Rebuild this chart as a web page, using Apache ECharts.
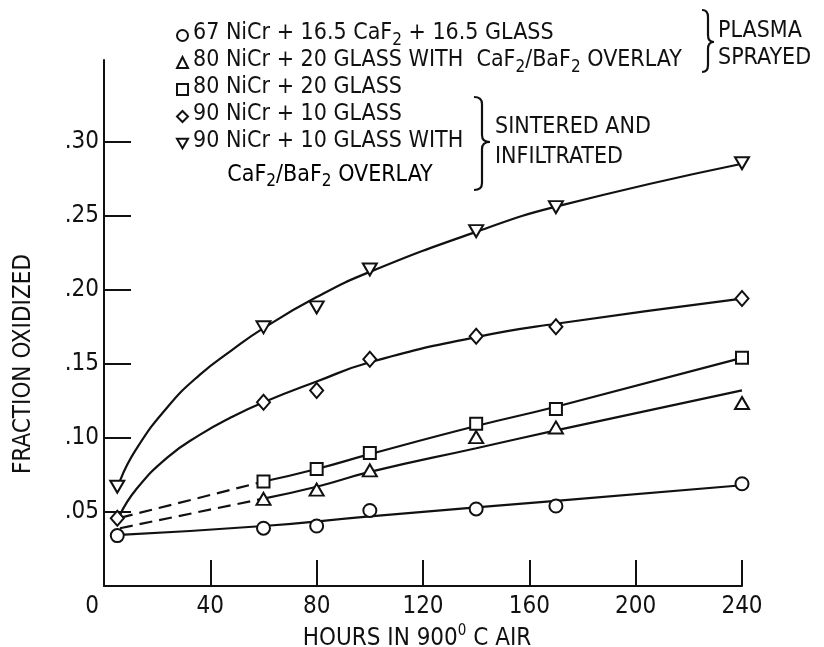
<!DOCTYPE html>
<html><head><meta charset="utf-8">
<script src="https://cdn.jsdelivr.net/npm/echarts@6/dist/echarts.min.js"></script>
<style>html,body{margin:0;padding:0;background:#fff}#c{width:824px;height:647px}</style>
</head><body><div id="c"></div>
<script>
// ---------- data ----------
const xTicks = [0, 40, 80, 120, 160, 200, 240];
const yTicks = [0.05, 0.10, 0.15, 0.20, 0.25, 0.30];

const seriesNames = [
  '67 NiCr + 16.5 CaF2 + 16.5 GLASS',
  '80 NiCr + 20 GLASS WITH  CaF2/BaF2 OVERLAY',
  '80 NiCr + 20 GLASS',
  '90 NiCr + 10 GLASS',
  '90 NiCr + 10 GLASS WITH'
];
const overlayLine = 'CaF2/BaF2 OVERLAY';
const plasmaLabel = ['PLASMA', 'SPRAYED'];
const sinterLabel = ['SINTERED AND', 'INFILTRATED'];

// measured points (hours, fraction oxidized)
const pointHours   = [5, 60, 80, 100, 140, 170, 240];
const circlePts    = [0.034, 0.039, 0.0405, 0.051, 0.052, 0.054, 0.069];
const trianglePts  = [null, 0.0588, 0.065, 0.078, 0.1005, 0.107, 0.1235];
const squarePts    = [null, 0.0705, 0.079, 0.0897, 0.1095, 0.1194, 0.154];
const diamondPts   = [0.0457, 0.124, 0.132, 0.153, 0.1685, 0.175, 0.194];
const downTriPts   = [0.067, 0.1746, 0.188, 0.2136, 0.2395, 0.2557, 0.2853];

// faired curves
const fitHours     = [6, 12, 24, 36, 48, 60, 80, 100, 140, 170, 240];
const circleFit    = [0.0345, null, null, null, null, 0.0405, null, 0.047, 0.053, 0.0575, 0.068];
const triangleFit  = [null, null, null, null, null, 0.059, 0.067, 0.077, 0.093, 0.105, 0.132];
const squareFit    = [null, null, null, null, null, 0.0705, 0.079, 0.089, 0.108, 0.121, 0.154];
const diamondFit   = [0.048, 0.065, 0.087, 0.102, 0.114, 0.124, 0.138, 0.151, 0.168, 0.177, 0.194];
const downTriFit   = [0.071, 0.092, 0.121, 0.1425, 0.159, 0.174, 0.195, 0.212, 0.239, 0.256, 0.285];
// dashed extrapolations to the first reading
const triangleDash = [0.039, null, null, null, null, 0.059, null, null, null, null, null];
const squareDash   = [0.046, null, null, null, null, 0.0705, null, null, null, null, null];

// ---------- styling ----------
const FONT = '"Liberation Sans Narrow","DejaVu Sans Condensed","Open Sans",sans-serif';
const INK = '#111';
const FS = 24;
const LFS = 23;
const DOWN_TRI = 'path://M0,0L12,0L6,10.4Z';

function pairs(xs, ys) {
  const out = [];
  xs.forEach((x, i) => { if (ys[i] != null) out.push([x, ys[i]]); });
  return out;
}
function richify(s) {
  return s.split(/(CaF2|BaF2)/).filter(p => p.length).map(p =>
    (p === 'CaF2' || p === 'BaF2') ? '{n|' + p.slice(0, 3) + '}{s|2}' : '{n|' + p + '}'
  ).join('');
}
const richBase = {
  n: { fontFamily: FONT, fontSize: LFS, color: INK, lineHeight: 27, padding: [0, 0, 4, 0] },
  s: { fontFamily: FONT, fontSize: 17, color: INK, lineHeight: 27, padding: [10, 0, 0, 0] }
};

const markerStyle = { color: '#fff', borderColor: INK, borderWidth: 2, opacity: 1 };
const symbols = ['circle', 'triangle', 'rect', 'diamond', DOWN_TRI];
const sizes = [13, [14, 12], 12, [13, 15], [14, 12]];
const ptsArr = [circlePts, trianglePts, squarePts, diamondPts, downTriPts];
const fitArr = [circleFit, triangleFit, squareFit, diamondFit, downTriFit];

const series = [];
fitArr.forEach((f, i) => {
  series.push({
    name: 'fit' + i, type: 'line', data: pairs(fitHours, f), connectNulls: true,
    smooth: 0.5, showSymbol: false, symbol: 'none', silent: true, z: 2,
    lineStyle: { color: INK, width: 2.2 }
  });
});
[triangleDash, squareDash].forEach((d, i) => {
  series.push({
    name: 'dash' + i, type: 'line', data: pairs(fitHours, d), connectNulls: true,
    showSymbol: false, symbol: 'none', silent: true, z: 2,
    lineStyle: { color: INK, width: 2.2, type: [13, 7] }
  });
});
ptsArr.forEach((p, i) => {
  series.push({
    name: seriesNames[i], type: 'scatter', data: pairs(pointHours, p),
    symbol: symbols[i], symbolSize: sizes[i], itemStyle: markerStyle, z: 5
  });
});

// right-hand curly brace built from curves and lines
function brace(x0, x1, y0, y1, ym) {
  const xm = (x0 + x1) / 2, r = 7;
  const st = { stroke: INK, lineWidth: 2.2, fill: null };
  const bz = (a, b, c, d, e, f) => ({ type: 'bezierCurve',
    shape: { x1: a, y1: b, cpx1: c, cpy1: d, x2: e, y2: f }, style: st });
  const ln = (a, b, c, d) => ({ type: 'line', shape: { x1: a, y1: b, x2: c, y2: d }, style: st });
  return { type: 'group', children: [
    bz(x0, y0, xm, y0, xm, y0 + r), ln(xm, y0 + r, xm, ym - r),
    bz(xm, ym - r, xm, ym, x1, ym), bz(x1, ym, xm, ym, xm, ym + r),
    ln(xm, ym + r, xm, y1 - r), bz(xm, y1 - r, xm, y1, x0, y1)
  ] };
}
function label(text, x, y, align) {
  return { type: 'text', x, y, style: { text, fontFamily: FONT, fontSize: LFS, fill: INK,
    align: align || 'left', verticalAlign: 'middle' } };
}

const chart = echarts.init(document.getElementById('c'), null, { renderer: 'canvas' });
chart.setOption({
  backgroundColor: '#fff',
  animation: false,
  grid: { left: 104, right: 82, top: 60, bottom: 61, outerBoundsMode: 'none', containLabel: false },
  legend: {
    orient: 'vertical', left: 176, top: 22, padding: 0, itemGap: 0,
    itemWidth: 11, itemHeight: 11, selectedMode: false,
    data: seriesNames.map((n, i) => ({ name: n, icon: symbols[i] })),
    formatter: name => richify(name),
    textStyle: { fontFamily: FONT, fontSize: LFS, color: INK, rich: richBase }
  },
  xAxis: {
    type: 'value', min: 0, max: 240, interval: 40,
    name: '{n|HOURS IN 900}{p|0}{n| C AIR}', nameLocation: 'middle', nameGap: 32,
    nameTextStyle: { padding: [0, 12, 0, 0], rich: {
      n: { fontFamily: FONT, fontSize: FS, color: INK, lineHeight: 28 },
      p: { fontFamily: FONT, fontSize: 15, color: INK, lineHeight: 10, padding: [0, 0, 14, 0] } } },
    axisLine: { show: true, lineStyle: { color: INK, width: 2 } },
    axisTick: { show: true, inside: true, length: 26, customValues: xTicks.slice(1),
      lineStyle: { color: INK, width: 2 } },
    axisLabel: { customValues: xTicks, margin: 9, fontFamily: FONT, fontSize: FS, color: INK,
      formatter: v => v === 0 ? '{z|0}' : String(v),
      rich: { z: { fontFamily: FONT, fontSize: FS, color: INK, padding: [0, 24, 0, 0] } } },
    splitLine: { show: false }
  },
  yAxis: {
    type: 'value', min: 0, max: 0.355,
    name: 'FRACTION OXIDIZED', nameLocation: 'middle', nameGap: 68,
    nameTextStyle: { fontFamily: FONT, fontSize: FS, color: INK, padding: [0, 82, 0, 0] },
    axisLine: { show: true, lineStyle: { color: INK, width: 2 } },
    axisTick: { show: true, inside: true, length: 27, customValues: yTicks,
      lineStyle: { color: INK, width: 2 } },
    axisLabel: { customValues: yTicks, margin: 5, fontFamily: FONT, fontSize: FS, color: INK,
      formatter: v => '.' + String(Math.round(v * 100)).padStart(2, '0') },
    splitLine: { show: false }
  },
  graphic: [
    { type: 'text', x: 330, y: 177, style: { rich: richBase, text: richify(overlayLine),
      align: 'center', verticalAlign: 'middle' } },
    brace(702, 714, 10, 72, 42),
    label(plasmaLabel[0], 718, 31), label(plasmaLabel[1], 718, 58),
    brace(474, 490, 97, 190, 142),
    label(sinterLabel[0], 495, 127), label(sinterLabel[1], 495, 157)
  ],
  series
});
</script></body></html>
